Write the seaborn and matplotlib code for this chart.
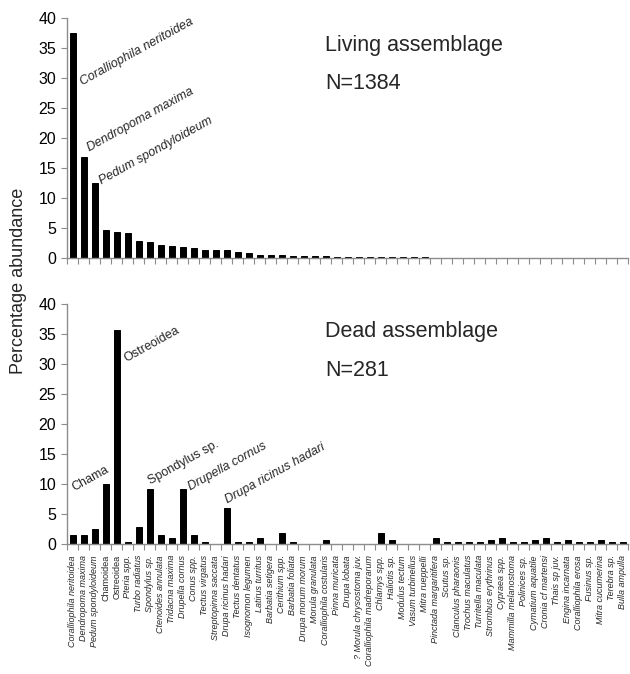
import numpy as np
import pandas as pd
import matplotlib
matplotlib.use("Agg")
import matplotlib.pyplot as plt
import seaborn as sns

species = [
    "Coralliophila neritoidea", "Dendropoma maxima", "Pedum spondyloideum",
    "Chamoidea", "Ostreoidea", "Pteria spp.", "Turbo radiatus", "Spondylus sp.",
    "Ctenoides annulata", "Tridacna maxima", "Drupella cornus", "Conus spp.",
    "Tectus virgatus", "Streptopinna saccata", "Drupa ricinus hadari",
    "Tectus dentatus", "Isognomon legumen", "Latirus turritus", "Barbatia setigera",
    "Cerithium spp.", "Barbatia foliata", "Drupa morum morum", "Morula granulata",
    "Coralliophila costularis", "Pinna muricata", "Drupa lobata",
    "? Morula chrysostoma juv.", "Coralliophila madreporarum", "Chlamys spp.",
    "Haliotis sp.", "Modulus tectum", "Vasum turbinellus", "Mitra rueppelli",
    "Pinctada margaritifera", "Scutus sp.", "Clanculus pharaonis",
    "Trochus maculatus", "Turritella maculata", "Strombus erythrinus",
    "Cypraea spp.", "Mammilla melanostoma", "Polinices sp.", "Cymatium aquatile",
    "Cronia cf martensi", "Thais sp juv.", "Engina incarnata",
    "Coralliophila erosa", "Fusinus sp.", "Mitra cucumerina", "Terebra sp.",
    "Bulla ampulla",
]

living = [
    37.5, 16.9, 12.5, 4.7, 4.4, 4.1, 2.9, 2.6, 2.2, 2.0, 1.8, 1.6, 1.4, 1.3, 1.3,
    1.0, 0.8, 0.55, 0.5, 0.5, 0.4, 0.29, 0.29, 0.29, 0.22, 0.22, 0.22, 0.22,
    0.14, 0.14, 0.14, 0.14, 0.14,
    0, 0, 0, 0, 0, 0, 0, 0, 0, 0, 0, 0, 0, 0, 0, 0, 0, 0,
]

dead = [
    1.42, 1.42, 2.49, 9.96, 35.59, 0.36, 2.85, 9.25, 1.42, 1.07, 9.25, 1.42, 0.36,
    0, 6.05, 0.36, 0.36, 1.07, 0, 1.78, 0.36, 0, 0, 0.71, 0, 0, 0, 0, 1.78, 0.71,
    0, 0, 0, 1.07, 0.36, 0.36, 0.36, 0.36, 0.71, 1.07, 0.36, 0.36, 0.71, 1.07,
    0.36, 0.71, 0.36, 0.36, 0.71, 0.36, 0.36,
]

upright_labels = ["Chamoidea", "Ostreoidea"]

living_notes = [("Coralliophila neritoidea", "italic"),
                ("Dendropoma maxima", "italic"),
                ("Pedum spondyloideum", "italic")]
living_note_pos = [(0.9, 28.7), (1.5, 17.7), (2.6, 12.2)]

dead_notes = [("Chama", "normal"), ("Ostreoidea", "normal"),
              ("Spondylus sp.", "normal"), ("Drupella cornus", "italic"),
              ("Drupa ricinus hadari", "italic")]
dead_note_pos = [(0.1, 8.9), (4.85, 30.4), (7.05, 10.0), (10.7, 8.9), (14.05, 6.7)]

sns.set_style("ticks")
plt.rcParams["font.family"] = ["Liberation Sans", "DejaVu Sans"]

df = pd.DataFrame({"species": species, "living": living, "dead": dead})

W, H = 630, 674
fig = plt.figure(figsize=(W / 100, H / 100), dpi=100)
ax1 = fig.add_axes([67.3 / W, 1 - 258 / H, 561 / W, 240 / H])
ax2 = fig.add_axes([67.3 / W, 1 - 544 / H, 561 / W, 240 / H])

grey = "#8c8c8c"
n = len(species)
for ax, col in ((ax1, "living"), (ax2, "dead")):
    sns.barplot(data=df, x="species", y=col, color="black", saturation=1,
                width=0.55, edgecolor="black", linewidth=0.7, ax=ax)
    ax.set_xlim(-0.5, n - 0.5)
    ax.set_ylim(0, 40)
    ax.set_yticks(range(0, 41, 5))
    ax.set_xlabel("")
    ax.set_ylabel("")
    sns.despine(ax=ax)
    for s in ("left", "bottom"):
        ax.spines[s].set_color(grey)
        ax.spines[s].set_linewidth(1.0)
    ax.tick_params(axis="y", length=4, color=grey, labelsize=11.5, pad=4,
                   labelcolor="black")
    ax.set_xticks(np.arange(-0.5, n, 1), minor=True)
    ax.tick_params(axis="x", which="minor", length=4, color=grey, width=0.8)
    ax.tick_params(axis="x", which="major", length=0)

ax1.tick_params(axis="x", which="major", labelbottom=False)
ax2.set_xticks(range(n))
ax2.set_xticklabels(species, rotation=90, fontsize=6.5)
ax2.tick_params(axis="x", which="major", pad=8)
for lbl in ax2.get_xticklabels():
    lbl.set_style("normal" if lbl.get_text() in upright_labels else "italic")

for (txt, st), (x, y) in zip(living_notes, living_note_pos):
    ax1.text(x, y, txt, rotation=29, rotation_mode="anchor", ha="left",
             va="baseline", fontsize=9, style=st)
for (txt, st), (x, y) in zip(dead_notes, dead_note_pos):
    ax2.text(x, y, txt, rotation=29, rotation_mode="anchor", ha="left",
             va="baseline", fontsize=9, style=st)

ax1.text(0.459, 0.8625, "Living assemblage", transform=ax1.transAxes,
         fontsize=15.5, va="baseline", ha="left")
ax1.text(0.459, 0.704, "N=1384", transform=ax1.transAxes,
         fontsize=15.5, va="baseline", ha="left")
ax2.text(0.459, 0.8625, "Dead assemblage", transform=ax2.transAxes,
         fontsize=15.5, va="baseline", ha="left")
ax2.text(0.459, 0.70, "N=281", transform=ax2.transAxes,
         fontsize=15.5, va="baseline", ha="left")

fig.text(19 / W, 1 - 281 / H, "Percentage abundance", rotation=90,
         va="center", ha="center", fontsize=13)

fig.savefig("out.png", dpi=100)
